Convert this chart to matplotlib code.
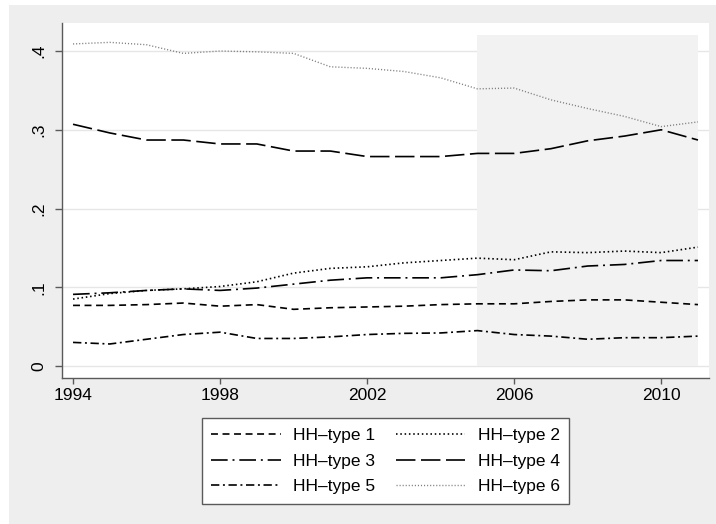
import matplotlib
matplotlib.use("Agg")
import matplotlib.pyplot as plt
from matplotlib.patches import Rectangle

plt.rcParams['font.family'] = ['Liberation Sans', 'DejaVu Sans']
plt.rcParams['lines.scale_dashes'] = False

# data
years = list(range(1994, 2012))
hh1 = [0.077, 0.077, 0.078, 0.080, 0.076, 0.078, 0.072, 0.074, 0.075, 0.076,
       0.078, 0.079, 0.079, 0.082, 0.084, 0.084, 0.081, 0.078]
hh2 = [0.085, 0.092, 0.096, 0.098, 0.101, 0.107, 0.118, 0.124, 0.126, 0.131,
       0.134, 0.137, 0.135, 0.145, 0.144, 0.146, 0.144, 0.151]
hh3 = [0.091, 0.093, 0.096, 0.098, 0.096, 0.099, 0.104, 0.109, 0.112, 0.112,
       0.112, 0.116, 0.122, 0.121, 0.127, 0.129, 0.134, 0.134]
hh4 = [0.307, 0.296, 0.287, 0.287, 0.282, 0.282, 0.273, 0.273, 0.266, 0.266,
       0.266, 0.270, 0.270, 0.276, 0.286, 0.292, 0.300, 0.287]
hh5 = [0.030, 0.028, 0.034, 0.040, 0.043, 0.035, 0.035, 0.037, 0.040, 0.0415,
       0.042, 0.045, 0.040, 0.038, 0.034, 0.036, 0.036, 0.038]
hh6 = [0.409, 0.411, 0.408, 0.397, 0.400, 0.399, 0.397, 0.380, 0.378, 0.374,
       0.366, 0.352, 0.353, 0.338, 0.327, 0.317, 0.304, 0.310]
labels = ['HH–type 1', 'HH–type 2', 'HH–type 3', 'HH–type 4', 'HH–type 5', 'HH–type 6']

x_ticks = [1994, 1998, 2002, 2006, 2010]
y_ticks = [0, 0.1, 0.2, 0.3, 0.4]
y_ticklabels = ['0', '.1', '.2', '.3', '.4']

shade_start, shade_end, shade_top = 2005, 2011, 0.42

fig = plt.figure(figsize=(7.16, 5.24), dpi=100)
fig.patch.set_facecolor('white')
# stata-like gray graph region
fig.patches.append(Rectangle((9 / 716, 0), 1, 1 - 5 / 524, transform=fig.transFigure,
                             facecolor='#eeeeee', edgecolor='none', zorder=-10))

ax = fig.add_axes([62 / 716, 1 - 378 / 524, (709 - 62) / 716, (378 - 23) / 524])
ax.set_facecolor('white')

for yv in y_ticks:
    ax.axhline(yv, color='#e6e6e6', lw=1.0, zorder=0.5)
ax.fill_between([shade_start, shade_end], 0, shade_top, color='#f2f2f2', lw=0, zorder=1)

lw = 1.2
styles = [
    dict(color='black', ls=(0, (5.0, 3.3))),
    dict(color='black', ls=(0, (1.1, 2.0))),
    dict(color='black', ls=(0, (12.0, 3.5, 1.4, 3.5))),
    dict(color='black', ls=(0, (14.0, 4.0))),
    dict(color='black', ls=(0, (6.0, 2.6, 1.4, 2.6))),
    dict(color='#808080', ls=(0, (0.8, 1.4)), lw=1.0),
]
series = [hh1, hh2, hh3, hh4, hh5, hh6]
handles = []
for ys, st, lab in zip(series, styles, labels):
    kw = dict(lw=lw)
    kw.update(st)
    h, = ax.plot(years, ys, label=lab, zorder=3, **kw)
    handles.append(h)

ax.set_xlim(1993.70, 2011.3)
ax.set_ylim(-0.0152, 0.4356)
ax.set_xticks(x_ticks)
ax.set_yticks(y_ticks)
ax.set_yticklabels(y_ticklabels, rotation=90, va='center')

for s in ['top', 'right']:
    ax.spines[s].set_visible(False)
for s in ['left', 'bottom']:
    ax.spines[s].set_color('#5a5a5a')
    ax.spines[s].set_linewidth(1.0)

ax.tick_params(axis='both', colors='#5a5a5a', labelcolor='black', labelsize=12.5, width=1.0)
ax.tick_params(axis='x', length=4.5, pad=3)
ax.tick_params(axis='y', length=5, pad=6)

# legend fills column-wise, so reorder to read row-wise
order = [0, 2, 4, 1, 3, 5]
leg = fig.legend([handles[i] for i in order], [labels[i] for i in order],
                 loc='center', bbox_to_anchor=(385.5 / 716, 1 - 461 / 524),
                 ncol=2, fontsize=12.5, frameon=True, fancybox=False, framealpha=1,
                 handlelength=4.0, handletextpad=0.7, columnspacing=1.2,
                 labelspacing=0.62, borderpad=0.55, borderaxespad=0)
leg.get_frame().set_edgecolor('#5a5a5a')
leg.get_frame().set_linewidth(1.0)
leg.get_frame().set_facecolor('white')

fig.savefig('out.png', dpi=100)
